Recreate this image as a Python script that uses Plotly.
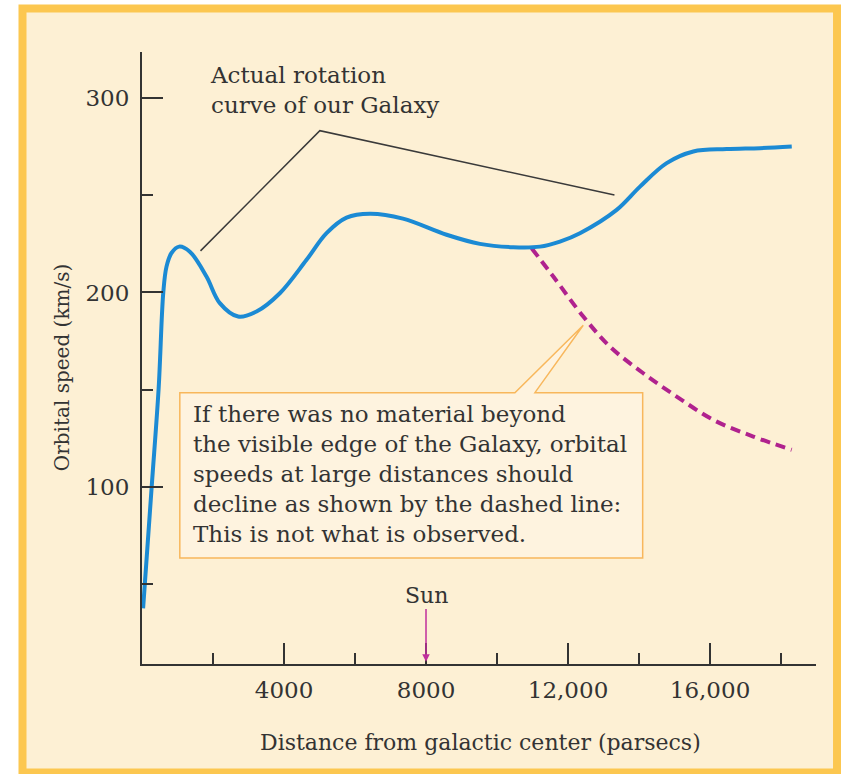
import plotly.graph_objects as go

# observed rotation curve (distance in parsecs, speed in km/s)
dist_obs = [31, 273, 468, 600, 690, 831, 1045, 1347, 1816, 2192, 2708,
            3226, 3883, 4635, 5198, 5762, 6420, 7350, 8580, 9518, 10457,
            11209, 11772, 12336, 13370, 14027, 14778, 15529, 16470, 17408, 18302]
speed_obs = [37.4, 100, 150.3, 200, 213.3, 220.3, 223.6, 221, 208.2, 194.5, 187.6,
             190.2, 199.6, 216.8, 230.5, 238.5, 240.5, 238, 229.7, 225, 223.3,
             223.6, 226.2, 230.5, 242.5, 254.5, 266.6, 272.6, 273.8, 274.3, 275.1]

# expected decline with no material beyond the visible edge
dist_kepler = [10975, 11585, 12430, 13181, 14120, 15060, 16092, 17219, 18301]
speed_kepler = [222.8, 208.2, 187.6, 172.1, 158.4, 146.4, 134.4, 125.8, 119]

x_major = [4000, 8000, 12000, 16000]
x_major_text = ["4000", "8000", "12,000", "16,000"]
x_minor = [2000, 6000, 10000, 14000, 18000]
y_major = [100, 200, 300]
y_minor = [50, 150, 250]

sun_pc = 8000

FONT = "DejaVu Serif"
INK = "#333333"
CREAM = "#fdf0d4"
FRAME = "#fcc750"
BOX_LINE = "#f8b75c"

fig = go.Figure()

fig.add_trace(go.Scatter(
    x=dist_kepler, y=speed_kepler, mode="lines",
    line=dict(color="#b0228e", width=4, dash="10px,6px", shape="spline", smoothing=1),
    hoverinfo="skip",
))
fig.add_trace(go.Scatter(
    x=dist_obs, y=speed_obs, mode="lines",
    line=dict(color="#1b8ad4", width=4, shape="spline", smoothing=1),
    hoverinfo="skip",
))

# outer frame
fig.add_shape(type="rect", xref="paper", yref="paper",
              x0=-0.1773, x1=1.0312, y0=-0.1773, y1=1.0711,
              line=dict(color=FRAME, width=8), fillcolor=CREAM, layer="below")

# leader line for the top label
fig.add_shape(type="path", xref="x", yref="y",
              path="M 1648 221.4 L 5010 283.3 L 13308 250.2",
              line=dict(color="#3a3a3a", width=1.5))

# callout box with pointer
fig.add_shape(type="path", xref="x", yref="y",
              path="M 1065 148.4 L 10504 148.4 L 12429 183.1 L 11068 148.4 "
                   "L 14103 148.4 L 14103 63.3 L 1065 63.3 Z",
              line=dict(color=BOX_LINE, width=1.5), fillcolor="#fef3df")

fig.add_annotation(
    x=1854, y=304.3, xref="x", yref="y", xanchor="left", yanchor="middle",
    text="Actual rotation<br>curve of our Galaxy", showarrow=False, align="left",
    font=dict(family=FONT, size=23, color=INK),
)
fig.add_annotation(
    x=1380, y=106.5, xref="x", yref="y", xanchor="left", yanchor="middle",
    text=("If there was no material beyond<br>the visible edge of the Galaxy, orbital<br>"
          "speeds at large distances should<br>decline as shown by the dashed line:<br>"
          "This is not what is observed."),
    showarrow=False, align="left",
    font=dict(family=FONT, size=23, color=INK),
)
fig.add_annotation(
    x=sun_pc, y=9.9, ax=sun_pc, ay=44.2, xref="x", yref="y", axref="x", ayref="y",
    text="Sun", showarrow=True, arrowhead=2, arrowsize=1, arrowwidth=1.5,
    arrowcolor="#c0309c", standoff=0,
    font=dict(family=FONT, size=22, color=INK),
)

# axis titles
fig.add_annotation(
    x=-0.1187, y=0.485, xref="paper", yref="paper", textangle=-90,
    xanchor="center", yanchor="middle",
    text="Orbital speed (km/s)", showarrow=False,
    font=dict(family=FONT, size=20, color=INK),
)
fig.add_annotation(
    x=0.5015, y=-0.1275, xref="paper", yref="paper",
    xanchor="center", yanchor="middle",
    text="Distance from galactic center (parsecs)", showarrow=False,
    font=dict(family=FONT, size=22, color=INK),
)

fig.update_xaxes(
    range=[0, 18985], showgrid=False, zeroline=False,
    showline=True, linecolor=INK, linewidth=2,
    tickmode="array", tickvals=x_major, ticktext=x_major_text,
    ticks="inside", ticklen=21, tickwidth=2, tickcolor=INK,
    ticklabelstandoff=4,
    tickfont=dict(family=FONT, size=23, color=INK),
    minor=dict(tickmode="array", tickvals=x_minor, ticks="inside",
               ticklen=11, tickwidth=2, tickcolor=INK, showgrid=False),
)
fig.update_yaxes(
    range=[8.7, 323.8], showgrid=False, zeroline=False,
    showline=True, linecolor=INK, linewidth=2,
    tickmode="array", tickvals=y_major,
    ticks="inside", ticklen=21, tickwidth=2, tickcolor=INK,
    ticklabelstandoff=6,
    tickfont=dict(family=FONT, size=23, color=INK),
    minor=dict(tickmode="array", tickvals=y_minor, ticks="inside",
               ticklen=11, tickwidth=2, tickcolor=INK, showgrid=False),
)

fig.update_layout(
    width=841, height=774, autosize=False,
    margin=dict(l=142, r=25, t=52, b=110),
    paper_bgcolor="white", plot_bgcolor="rgba(0,0,0,0)",
    showlegend=False,
)

# drop the default page margin so the figure sits at the window origin
fig.write_html("out.html", config={"displayModeBar": False},
               post_script="document.body.style.margin='0';")
